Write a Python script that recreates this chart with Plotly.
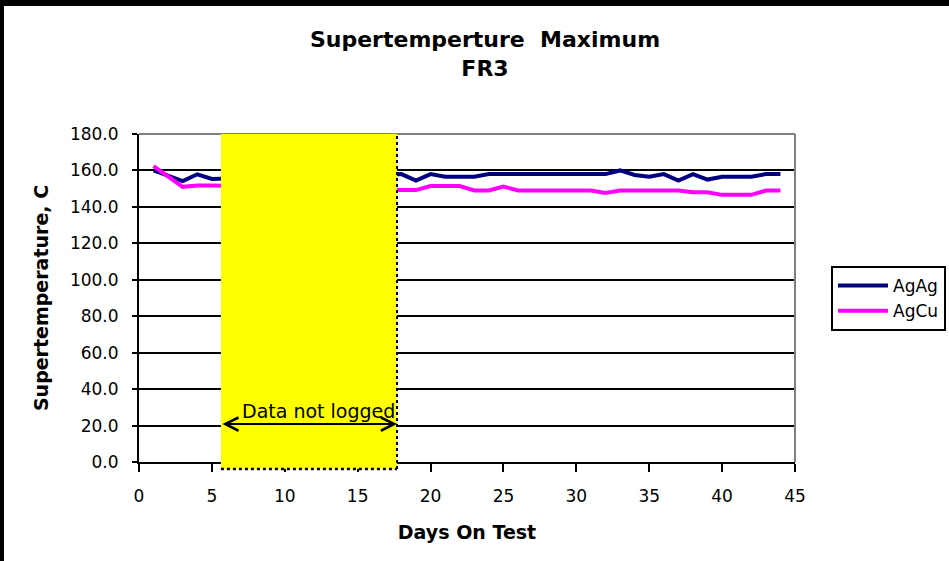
import plotly.graph_objects as go

# ---- data ----
days = [1, 2, 3, 4, 5,
        18, 19, 20, 21, 22, 23, 24, 25, 26, 27, 28, 29, 30, 31,
        32, 33, 34, 35, 36, 37, 38, 39, 40, 41, 42, 43, 44]
agag = [160.0, 157.0, 154.2, 157.9, 155.3,
        158.0, 154.5, 158.0, 156.5, 156.5, 156.5, 158.0, 158.0, 158.0, 158.0, 158.0, 158.0, 158.0, 158.0,
        158.0, 160.0, 157.5, 156.5, 158.0, 154.5, 158.0, 155.0, 156.5, 156.5, 156.5, 158.0, 158.0]
agcu = [162.4, 156.8, 151.0, 151.8, 151.8,
        149.2, 149.2, 151.4, 151.4, 151.4, 149.0, 149.0, 151.2, 149.0, 149.0, 149.0, 149.0, 149.0, 149.0,
        147.6, 149.0, 149.0, 149.0, 149.0, 149.0, 148.0, 148.0, 146.6, 146.6, 146.6, 149.0, 149.0]
series_names = ["AgAg", "AgCu"]

gap_start, gap_end = 5.62, 17.7       # unlogged period (days)
arrow_level = 20.8
x_range = [0, 45]
y_range = [0, 180]

# ---- layout geometry (pixels) ----
W, H = 949, 561
ML, MR, MT, MB = 139, 154, 134, 99
PW, PH = W - ML - MR, H - MT - MB


def px_x(p):  # pixel x -> paper
    return (p - ML) / PW


def px_y(p):  # pixel y -> paper
    return (H - MB - p) / PH


def dx(v):  # data x -> paper
    return (v - x_range[0]) / (x_range[1] - x_range[0])


def dy(v):
    return (v - y_range[0]) / (y_range[1] - y_range[0])


FONT = "DejaVu Sans, Arial, sans-serif"

fig = go.Figure()
fig.add_trace(go.Scatter(x=days, y=agag, name=series_names[0], mode="lines",
                         line=dict(color="#000080", width=4)))
fig.add_trace(go.Scatter(x=days, y=agcu, name=series_names[1], mode="lines",
                         line=dict(color="#FF00FF", width=4)))

shapes = [
    # black frame bands (top and left)
    dict(type="rect", xref="paper", yref="paper", x0=px_x(0), x1=px_x(4), y0=px_y(H), y1=px_y(0),
         fillcolor="black", line=dict(width=0), layer="below"),
    dict(type="rect", xref="paper", yref="paper", x0=px_x(0), x1=px_x(W), y0=px_y(6), y1=px_y(0),
         fillcolor="black", line=dict(width=0), layer="below"),
    # plot border top/right in gray
    dict(type="line", xref="paper", yref="paper", x0=0, x1=1, y0=1, y1=1,
         line=dict(color="#808080", width=2)),
    dict(type="line", xref="paper", yref="paper", x0=1, x1=1, y0=0, y1=1,
         line=dict(color="#808080", width=2)),
    # yellow box for data gap
    dict(type="rect", xref="paper", yref="paper", x0=dx(gap_start), x1=dx(gap_end),
         y0=dy(-3.8), y1=1, fillcolor="#FFFF00", line=dict(width=0), layer="above"),
    dict(type="line", xref="paper", yref="paper", x0=dx(gap_end), x1=dx(gap_end),
         y0=dy(-3.8), y1=1, line=dict(color="black", width=2, dash="dot"), layer="above"),
    dict(type="line", xref="paper", yref="paper", x0=dx(gap_start), x1=dx(gap_end),
         y0=dy(-3.8), y1=dy(-3.8), line=dict(color="black", width=2.5, dash="dot"), layer="above"),
]

annotations = [
    dict(x=gap_end, y=arrow_level, ax=gap_start, ay=arrow_level, xref="x", yref="y",
         axref="x", ayref="y", text="", showarrow=True, arrowhead=5, startarrowhead=5,
         arrowside="end+start", arrowsize=1.3, startarrowsize=1.3, arrowwidth=2, arrowcolor="black"),
    dict(x=12.3, y=arrow_level + 7, xref="x", yref="y", text="Data not logged", showarrow=False,
         font=dict(family=FONT, size=19, color="black")),
]

fig.update_layout(
    width=W, height=H,
    margin=dict(l=ML, r=MR, t=MT, b=MB, autoexpand=False),
    paper_bgcolor="white", plot_bgcolor="white",
    title=dict(text="<b>Supertemperture  Maximum</b><br><b>FR3</b>",
               x=485 / W, xanchor="center", xref="container",
               y=1 - 47 / H, yanchor="top",
               font=dict(family=FONT, size=22, color="black")),
    xaxis=dict(range=x_range, dtick=5, tick0=0, showgrid=False, zeroline=False,
               showline=True, linecolor="black", linewidth=2,
               ticks="outside", ticklen=8, tickwidth=2, tickcolor="black",
               ticklabelstandoff=10,
               tickfont=dict(family=FONT, size=17, color="black"),
               title=dict(text="<b>Days On Test</b>", standoff=20,
                          font=dict(family=FONT, size=19, color="black"))),
    yaxis=dict(range=y_range, dtick=20, tick0=0, tickformat=".1f",
               showgrid=True, gridcolor="black", gridwidth=1.5, zeroline=False,
               showline=True, linecolor="black", linewidth=2,
               ticks="outside", ticklen=5, tickwidth=2, tickcolor="black",
               ticklabelstandoff=10,
               tickfont=dict(family=FONT, size=17, color="black"),
               title=dict(text="<b>Supertemperature, C</b>", standoff=16,
                          font=dict(family=FONT, size=19, color="black"))),
    legend=dict(x=px_x(831), y=px_y(266), xanchor="left", yanchor="top",
                bordercolor="black", borderwidth=2, bgcolor="white",
                itemwidth=50, tracegroupgap=0,
                font=dict(family=FONT, size=17, color="black")),
    shapes=shapes,
    annotations=annotations,
)

fig.write_html("out.html",
               config={"displayModeBar": False},
               post_script="document.body.style.margin='0';document.body.style.overflow='hidden';")
